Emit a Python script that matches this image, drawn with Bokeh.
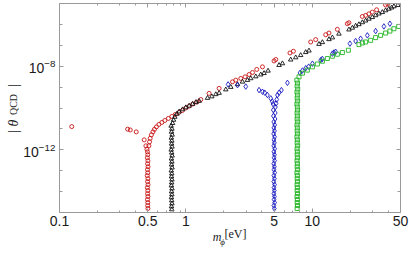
from bokeh.plotting import figure
from bokeh.models import FixedTicker, LogAxis, CustomJSTickFormatter, LogTickFormatter, AllLabels
from bokeh.embed import file_html
from bokeh.resources import INLINE

# ---------------- data ----------------
red_m = [0.125, 0.346, 0.363, 0.405, 0.468, 0.483, 0.492,
         0.497, 0.500, 0.496, 0.501, 0.498, 0.502, 0.497, 0.500, 0.495, 0.501,
         0.498, 0.502, 0.496, 0.500, 0.498, 0.501, 0.497, 0.500, 0.499, 0.501,
         0.510, 0.516, 0.522, 0.534, 0.549, 0.564, 0.585, 0.612, 0.646, 0.682,
         0.727, 0.775, 0.826, 0.881, 0.938, 1.0, 1.066, 1.136, 1.222, 1.314,
         1.528, 1.834, 2.34, 2.485, 2.722, 2.943, 3.166, 3.368, 3.64, 4.04,
         4.99, 5.15, 6.67, 7.10, 9.73, 10.66, 12.79, 13.58, 15.82, 18.98, 19.54,
         24.94, 26.48, 28.12, 29.92, 32.36, 38.1, 39.7]
red_theta = [1.29e-11, 9.7e-12, 8.9e-12, 7.2e-12, 3.0e-12, 1.55e-12, 1.06e-12,
             8.0e-13, 5.8e-13, 4.16e-13, 2.99e-13, 2.15e-13, 1.55e-13, 1.12e-13, 8.0e-14, 5.8e-14, 4.16e-14,
             2.99e-14, 2.15e-14, 1.55e-14, 1.12e-14, 8.0e-15, 5.8e-15, 4.16e-15, 2.99e-15, 2.15e-15, 1.55e-15,
             1.55e-12, 2.4e-12, 3.53e-12, 5.2e-12, 7.2e-12, 9.5e-12, 1.25e-11, 1.64e-11, 2.04e-11, 2.54e-11,
             3.16e-11, 3.94e-11, 4.9e-11, 6.1e-11, 7.6e-11, 1.0e-10, 1.24e-10, 1.55e-10, 1.93e-10, 2.54e-10,
             5.0e-10, 8.7e-10, 1.79e-9, 2.15e-9, 2.6e-9, 3.1e-9, 4.0e-9, 5.0e-9, 7.0e-9, 9.3e-9,
             1.79e-8, 2.09e-8, 4.3e-8, 5.2e-8, 1.44e-7, 1.87e-7, 3.2e-7, 3.86e-7, 5.8e-7, 1.08e-6, 1.2e-6,
             2.4e-6, 2.69e-6, 3.2e-6, 3.86e-6, 5.0e-6, 8.5e-6, 9.5e-6]

black_m = [0.765, 0.776, 0.770, 0.779, 0.768, 0.774, 0.771, 0.777, 0.766, 0.773,
           0.779, 0.769, 0.775, 0.771, 0.778, 0.767, 0.774, 0.770, 0.776, 0.772,
           0.768, 0.777, 0.771, 0.775, 0.769, 0.773, 0.776, 0.770, 0.774,
           0.785, 0.799, 0.818, 0.849, 0.885,
           0.9417, 1.0, 1.062, 1.130, 1.200, 1.274, 1.484, 1.605, 1.727, 1.834,
           2.071, 2.268, 2.563, 2.807, 3.074, 3.265, 3.577, 3.917, 4.159, 4.473,
           5.467, 5.814, 6.761, 7.406, 8.11, 8.885, 9.434,
           11.32, 12.04, 13.58, 14.45, 16.29, 19.54, 20.79, 22.07, 23.44, 24.94,
           26.48, 28.12, 29.92, 31.77, 33.74, 35.89, 38.11, 40.47, 42.52, 44.33, 47.69]
black_theta = [1.39e-11, 1.0e-11, 7.2e-12, 5.2e-12, 3.73e-12, 2.68e-12, 1.93e-12, 1.39e-12, 1.0e-12, 7.2e-13,
               5.2e-13, 3.73e-13, 2.68e-13, 1.93e-13, 1.39e-13, 1.0e-13, 7.2e-14, 5.2e-14, 3.73e-14, 2.68e-14,
               1.93e-14, 1.39e-14, 1.0e-14, 7.2e-15, 5.2e-15, 3.73e-15, 2.68e-15, 1.93e-15, 1.39e-15,
               1.87e-11, 2.68e-11, 3.73e-11, 5.2e-11, 6.7e-11,
               8.5e-11, 1.06e-10, 1.27e-10, 1.55e-10, 1.87e-10, 2.15e-10, 2.99e-10, 3.53e-10, 4.5e-10, 5.2e-10,
               7.6e-10, 1.0e-9, 1.35e-9, 1.79e-9, 2.15e-9, 2.6e-9, 3.2e-9, 3.94e-9, 4.6e-9, 6.0e-9,
               1.12e-8, 1.35e-8, 2.04e-8, 2.6e-8, 3.34e-8, 4.64e-8, 5.5e-8,
               1.14e-7, 1.39e-7, 1.93e-7, 2.33e-7, 3.53e-7, 5.6e-7, 6.8e-7, 8.5e-7, 1.0e-6, 1.24e-6,
               1.5e-6, 1.83e-6, 2.2e-6, 2.69e-6, 3.24e-6, 3.81e-6, 4.64e-6, 5.5e-6, 6.3e-6, 7.2e-6, 8.3e-6]

blue_m = [2.160, 2.563, 2.981,
          3.797, 4.04, 4.212, 4.424, 4.698, 4.829,
          5.175, 5.242, 5.307, 5.467, 5.709, 6.368,
          4.90, 5.12, 4.92, 5.10, 4.93, 5.08, 4.96, 5.05, 4.97, 5.03, 4.95, 5.04,
          4.98, 5.02, 4.96, 5.05, 4.97, 5.03, 4.99, 5.04, 4.96, 5.02, 4.98, 5.05,
          4.97, 5.03, 4.96, 5.04, 4.98, 5.02, 4.97, 5.03, 4.99, 5.04, 4.97, 5.02,
          8.011, 8.37, 8.885, 9.382, 10.04, 11.67, 12.04, 14.45, 14.87, 15.34,
          19.9, 22.07, 24.17, 27.32, 31.77, 36.95, 41.21]
blue_theta = [1.35e-9, 1.24e-9, 1.06e-9,
              7.2e-10, 6.0e-10, 5.4e-10, 4.16e-10, 2.9e-10, 2.04e-10,
              1.64e-10, 2.54e-10, 4.16e-10, 5.4e-10, 7.2e-10, 1.6e-9,
              1.55e-10, 1.12e-10, 8.0e-11, 5.8e-11, 4.16e-11, 2.99e-11, 2.15e-11, 1.55e-11, 1.12e-11, 8.0e-12,
              5.8e-12, 4.16e-12, 2.99e-12, 2.15e-12, 1.55e-12, 1.12e-12, 8.0e-13, 5.8e-13, 4.16e-13, 2.99e-13,
              2.15e-13, 1.55e-13, 1.12e-13, 8.0e-14, 5.8e-14, 4.16e-14, 2.99e-14, 2.15e-14, 1.55e-14, 1.12e-14,
              8.0e-15, 5.8e-15, 4.16e-15, 2.99e-15, 2.15e-15, 1.55e-15,
              4.8e-9, 6.2e-9, 8.0e-9, 9.5e-9, 1.32e-8, 1.93e-8, 2.23e-8, 4.0e-8, 4.5e-8, 4.9e-8,
              1.2e-7, 1.6e-7, 2.08e-7, 2.99e-7, 4.8e-7, 8.0e-7, 1.08e-6]

green_m = [7.56, 7.66, 7.60, 7.68, 7.58, 7.64, 7.61, 7.67, 7.57, 7.63, 7.66,
           7.59, 7.64, 7.60, 7.67, 7.58, 7.63, 7.61, 7.66, 7.57, 7.64, 7.60,
           7.67, 7.59, 7.63, 7.61, 7.66, 7.58, 7.64, 7.60, 7.67, 7.57, 7.63,
           7.61, 7.65, 7.59, 7.64, 7.60, 7.66, 7.58, 7.63, 7.61, 7.65, 7.60,
           7.866, 8.37, 9.165, 10.04, 10.99, 12.04, 13.19, 14.45, 15.82, 17.33, 19.33,
           23.44, 24.94, 26.48, 29.0, 31.77, 34.8, 38.11, 41.21, 44.33, 48.37]
green_theta = [2.15e-9, 1.55e-9, 1.12e-9, 8.0e-10, 5.8e-10, 4.16e-10, 2.99e-10, 2.15e-10, 1.55e-10, 1.12e-10,
               8.0e-11, 5.8e-11, 4.16e-11, 2.99e-11, 2.15e-11, 1.55e-11, 1.12e-11,
               8.0e-12, 5.8e-12, 4.16e-12, 2.99e-12, 2.15e-12, 1.55e-12, 1.12e-12,
               8.0e-13, 5.8e-13, 4.16e-13, 2.99e-13, 2.15e-13, 1.55e-13, 1.12e-13,
               8.0e-14, 5.8e-14, 4.16e-14, 2.99e-14, 2.15e-14, 1.55e-14, 1.12e-14,
               8.0e-15, 5.8e-15, 4.16e-15, 2.99e-15, 2.15e-15, 1.55e-15,
               3.1e-9, 4.64e-9, 6.5e-9, 9.3e-9, 1.27e-8, 1.73e-8, 2.33e-8, 2.99e-8, 3.73e-8, 4.5e-8, 5.8e-8,
               1.08e-7, 1.29e-7, 1.44e-7, 1.73e-7, 2.33e-7, 2.99e-7, 3.86e-7, 4.8e-7, 6.2e-7, 8.0e-7]

x_ticks = [0.1, 0.5, 1, 5, 10, 50]
x_tick_labels = ["0.1", "0.5", "1", "5", "10", "50"]
x_minor_ticks = [0.2, 0.3, 0.4, 0.6, 0.7, 0.8, 0.9, 2, 3, 4, 6, 7, 8, 9, 20, 30, 40]
y_ticks = [1e-12, 1e-8]
y_minor_ticks = [1e-15, 1e-14, 1e-13, 1e-12, 1e-11, 1e-10, 1e-9, 1e-8, 1e-7, 1e-6, 1e-5]

# axis-title pieces (text, anchor along the axis in data units) - composed for sub-scripts
xtitle_main = ["[eV]"]
xtitle_main_at = [2.47]
xtitle_m = ["m"]
xtitle_m_at = [1.765]
xtitle_sub = ["ϕ"]
xtitle_sub_at = [1.95]
ytitle_main = ["|", "θ", "|"]
ytitle_main_at = [7.5e-12, 1.9e-11, 1.19e-9]
ytitle_sub = ["QCD"]
ytitle_sub_at = [1.47e-10]

# ---------------- figure ----------------
AX = "#9a9a9a"
p = figure(width=409, height=254, x_axis_type="log", y_axis_type="log",
           x_range=(0.1, 50), y_range=(1e-15, 1e-5),
           output_backend="svg", toolbar_location=None,
           min_border_left=59, min_border_right=9, min_border_top=3, min_border_bottom=42)
p.xgrid.grid_line_color = None
p.ygrid.grid_line_color = None
p.outline_line_color = AX
p.background_fill_color = "white"
p.border_fill_color = "white"

LOOKUP = """
const i = tv.findIndex(t => Math.abs(t - tick) < 1e-6 * Math.abs(t));
return i >= 0 ? tl[i] : '';
"""

def style_axis(ax, ticker, fmt, show):
    ax.ticker = ticker
    ax.formatter = fmt
    ax.axis_line_color = AX
    ax.major_tick_line_color = AX
    ax.minor_tick_line_color = AX
    ax.major_tick_in = 4
    ax.major_tick_out = 0
    ax.minor_tick_in = 2
    ax.minor_tick_out = 0
    if show:
        ax.major_label_text_font = "Liberation Sans"
        ax.major_label_text_font_size = "14px"
        ax.major_label_text_color = "#1a1a1a"
        ax.major_label_standoff = 3
    else:
        ax.major_label_text_font_size = "0px"
        ax.major_label_standoff = 0

style_axis(p.xaxis[0], FixedTicker(ticks=x_ticks, minor_ticks=x_minor_ticks),
           CustomJSTickFormatter(args=dict(tv=x_ticks, tl=x_tick_labels), code=LOOKUP), True)
style_axis(p.yaxis[0], FixedTicker(ticks=y_ticks, minor_ticks=y_minor_ticks), LogTickFormatter(), True)
p.yaxis[0].minor_tick_in = 3
p.yaxis[0].major_label_standoff = 4

top = LogAxis()
style_axis(top, FixedTicker(ticks=x_ticks, minor_ticks=x_minor_ticks),
           CustomJSTickFormatter(code="return '';"), False)
right = LogAxis()
style_axis(right, FixedTicker(ticks=y_ticks, minor_ticks=y_minor_ticks),
           CustomJSTickFormatter(code="return '';"), False)
right.minor_tick_in = 3
p.add_layout(top, "above")
p.add_layout(right, "right")

def title_axis(at, texts, size, style, standoff, orientation="horizontal"):
    return LogAxis(ticker=FixedTicker(ticks=at, minor_ticks=[]),
                   formatter=CustomJSTickFormatter(args=dict(tv=at, tl=texts), code=LOOKUP),
                   major_label_policy=AllLabels(),
                   axis_line_color=None, major_tick_line_color=None, minor_tick_line_color=None,
                   major_tick_in=0, major_tick_out=0, minor_tick_in=0, minor_tick_out=0,
                   major_label_text_font="Liberation Serif", major_label_text_font_size=size,
                   major_label_text_font_style=style, major_label_text_color="#1a1a1a",
                   major_label_standoff=standoff, major_label_orientation=orientation)

# x title: m_phi[eV]
p.add_layout(title_axis(xtitle_main_at, xtitle_main, "12px", "normal", -2), "below")
p.add_layout(title_axis(xtitle_m_at, xtitle_m, "12px", "italic", -14), "below")
p.add_layout(title_axis(xtitle_sub_at, xtitle_sub, "9px", "italic", -10), "below")
# y title: |theta_QCD|
p.add_layout(title_axis(ytitle_main_at, ytitle_main, "14px", "italic", -1, "parallel"), "left")
p.add_layout(title_axis(ytitle_sub_at, ytitle_sub, "10px", "normal", -16, "parallel"), "left")

# ---------------- series ----------------
p.scatter(red_m, red_theta, marker="circle", size=4, fill_color=None,
          line_color="#c81414", line_width=0.9)
p.scatter(black_m, black_theta, marker="triangle", size=4.5, fill_color=None,
          line_color="#111111", line_width=0.9)
p.scatter(blue_m, blue_theta, marker="diamond", size=5.5, fill_color=None,
          line_color="#1a1ac0", line_width=0.9)
p.scatter(green_m, green_theta, marker="square", size=4, fill_color=None,
          line_color="#22b422", line_width=0.9)

open("out.html", "w").write(file_html(p, INLINE))
